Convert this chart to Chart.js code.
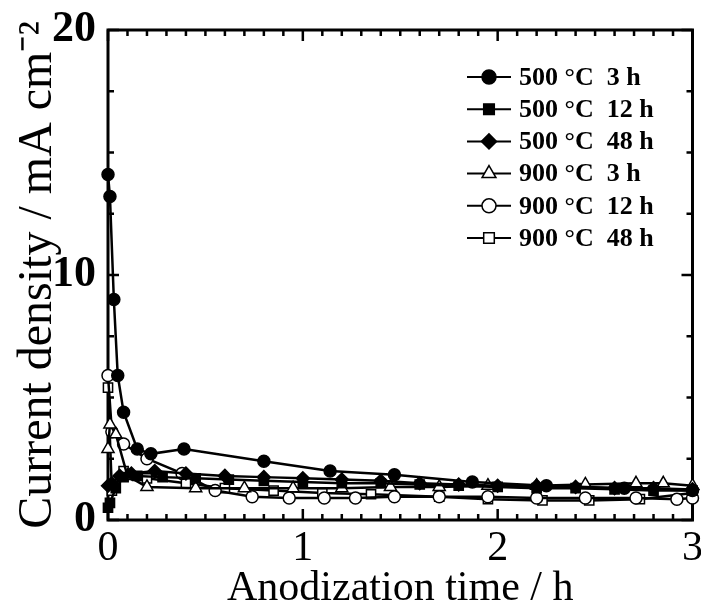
<!DOCTYPE html>
<html><head><meta charset="utf-8">
<script src="https://cdn.jsdelivr.net/npm/chart.js@4/dist/chart.umd.min.js"></script>
<style>html,body{margin:0;padding:0;background:#fff}</style>
</head><body>
<canvas id="c" width="701" height="608" style="width:701px;height:608px;display:block"></canvas>
<script>
// ---- data ----
const seriesLabels = ['500 °C  3 h', '500 °C  12 h', '500 °C  48 h', '900 °C  3 h', '900 °C  12 h', '900 °C  48 h'];

const t500_3h  = [0, 0.01, 0.03, 0.05, 0.08, 0.15, 0.22, 0.39, 0.80, 1.14, 1.47, 1.87, 2.25, 2.65, 3.00];
const j500_3h  = [14.1, 13.2, 9.0, 5.9, 4.4, 2.9, 2.7, 2.9, 2.4, 2.0, 1.85, 1.55, 1.4, 1.3, 1.2];

const t500_12h = [0, 0.01, 0.04, 0.08, 0.15, 0.28, 0.45, 0.62, 0.80, 1.00, 1.20, 1.40, 1.60, 1.80, 2.00, 2.20, 2.40, 2.60, 2.80, 3.00];
const j500_12h = [0.5, 0.7, 1.3, 1.75, 1.8, 1.75, 1.7, 1.65, 1.6, 1.55, 1.5, 1.5, 1.45, 1.4, 1.35, 1.3, 1.3, 1.25, 1.2, 1.2];

const t500_48h = [0, 0.02, 0.06, 0.12, 0.24, 0.40, 0.60, 0.80, 1.00, 1.20, 1.40, 1.60, 1.80, 2.00, 2.20, 2.40, 2.60, 2.80, 3.00];
const j500_48h = [1.4, 1.5, 1.8, 1.9, 2.0, 1.9, 1.8, 1.75, 1.7, 1.65, 1.6, 1.5, 1.45, 1.4, 1.4, 1.35, 1.3, 1.3, 1.25];

const t900_3h  = [0, 0.01, 0.04, 0.10, 0.20, 0.45, 0.70, 0.95, 1.20, 1.45, 1.70, 1.95, 2.20, 2.45, 2.71, 2.85, 3.00];
const j900_3h  = [2.9, 3.9, 3.5, 1.8, 1.35, 1.3, 1.3, 1.3, 1.3, 1.35, 1.35, 1.4, 1.4, 1.45, 1.5, 1.5, 1.4];

const t900_12h = [0, 0.02, 0.08, 0.20, 0.38, 0.55, 0.74, 0.93, 1.11, 1.27, 1.47, 1.70, 1.95, 2.20, 2.45, 2.71, 2.92, 3.00];
const j900_12h = [5.9, 3.6, 3.1, 2.5, 1.9, 1.2, 0.95, 0.9, 0.9, 0.9, 0.95, 0.95, 0.95, 0.9, 0.9, 0.9, 0.85, 0.9];

const t900_48h = [0, 0.02, 0.08, 0.20, 0.40, 0.60, 0.85, 1.10, 1.35, 1.70, 1.95, 2.23, 2.47, 2.73, 3.00];
const j900_48h = [5.4, 1.2, 2.0, 1.7, 1.5, 1.3, 1.2, 1.1, 1.05, 0.95, 0.85, 0.8, 0.8, 0.85, 1.1];

const xTickValues = [0, 1, 2, 3];
const yTickValues = [0, 10, 20];

// ---- build ----
const pts = (t, j) => t.map((x, i) => ({x: x, y: j[i]}));
const styles = [
  {pointStyle: 'circle',   radius: 6,   fill: '#000'},
  {pointStyle: 'rect',     radius: 6.5, fill: '#000'},
  {pointStyle: 'rectRot',  radius: 6.5, fill: '#000'},
  {pointStyle: 'triangle', radius: 7,   fill: '#fff'},
  {pointStyle: 'circle',   radius: 6,   fill: '#fff'},
  {pointStyle: 'rect',     radius: 6.5, fill: '#fff'}
];
const seriesData = [pts(t500_3h, j500_3h), pts(t500_12h, j500_12h), pts(t500_48h, j500_48h),
                    pts(t900_3h, j900_3h), pts(t900_12h, j900_12h), pts(t900_48h, j900_48h)];

const datasets = seriesData.map((d, i) => ({
  label: seriesLabels[i],
  data: d,
  showLine: true,
  tension: 0,
  borderColor: '#000',
  borderWidth: 2.5,
  pointStyle: styles[i].pointStyle,
  pointRadius: styles[i].radius,
  pointBackgroundColor: styles[i].fill,
  pointBorderColor: '#000',
  pointBorderWidth: 1.5,
  clip: false
}));

const SERIF = '"Liberation Serif", "Times New Roman", serif';

const framePlugin = {
  id: 'frame',
  beforeDatasetsDraw(chart) {
    const {ctx, chartArea: a, scales: {x, y}} = chart;
    ctx.save();
    ctx.strokeStyle = '#000';
    ctx.lineWidth = 2.5;
    ctx.lineCap = 'butt';
    ctx.beginPath();
    for (let k = 0; k <= 30; k++) {
      const v = k / 10;
      const px = x.getPixelForValue(v);
      const len = (k % 10 === 0) ? 11 : 6;
      ctx.moveTo(px, a.bottom); ctx.lineTo(px, a.bottom - len);
      ctx.moveTo(px, a.top); ctx.lineTo(px, a.top + len);
    }
    for (let k = 0; k <= 8; k++) {
      const v = k * 2.5;
      const py = y.getPixelForValue(v);
      const len = (k % 4 === 0) ? 11 : 6;
      ctx.moveTo(a.left, py); ctx.lineTo(a.left + len, py);
      ctx.moveTo(a.right, py); ctx.lineTo(a.right - len, py);
    }
    ctx.stroke();
    ctx.lineWidth = 3;
    ctx.strokeRect(a.left, a.top, a.right - a.left, a.bottom - a.top);
    ctx.restore();
  }
};

const legendPlugin = {
  id: 'boxLegend',
  afterDraw(chart) {
    const ctx = chart.ctx;
    ctx.save();
    ctx.font = 'bold 26px ' + SERIF;
    ctx.textBaseline = 'middle';
    ctx.textAlign = 'left';
    chart.data.datasets.forEach((ds, i) => {
      const yy = 77 + i * 32.2;
      ctx.strokeStyle = '#000';
      ctx.lineWidth = 2;
      ctx.beginPath(); ctx.moveTo(467, yy); ctx.lineTo(511, yy); ctx.stroke();
      ctx.fillStyle = ds.pointBackgroundColor;
      ctx.strokeStyle = '#000';
      ctx.lineWidth = 1.5;
      Chart.helpers.drawPoint(ctx, {pointStyle: ds.pointStyle, radius: ds.pointRadius + 1, rotation: 0, borderWidth: 1.5}, 489, yy);
      ctx.fillStyle = '#000';
      ctx.fillText(ds.label, 519, yy + 1);
    });
    ctx.restore();
  }
};

new Chart(document.getElementById('c'), {
  type: 'scatter',
  data: {datasets},
  options: {
    responsive: false,
    animation: false,
    devicePixelRatio: 1,
    layout: {padding: {top: 30, right: 8, left: 0, bottom: 0}},
    plugins: {legend: {display: false}, tooltip: {enabled: false}},
    scales: {
      x: {
        type: 'linear', min: 0, max: 3,
        afterFit: s => { s.height = 88; s.paddingLeft = 0; s.paddingRight = 0; },
        afterBuildTicks: s => { s.ticks = xTickValues.map(v => ({value: v})); },
        grid: {display: false, drawTicks: false},
        border: {display: false},
        ticks: {color: '#000', font: {family: SERIF, size: 42}, padding: 4, maxRotation: 0, autoSkip: false},
        title: {display: true, text: 'Anodization time / h', color: '#000',
                font: {family: SERIF, size: 42, lineHeight: 1}, padding: {top: 0, bottom: -2}}
      },
      y: {
        type: 'linear', min: 0, max: 20,
        afterFit: s => { s.width = 108; s.paddingTop = 0; s.paddingBottom = 0; },
        afterBuildTicks: s => { s.ticks = yTickValues.map(v => ({value: v})); },
        grid: {display: false, drawTicks: false},
        border: {display: false},
        ticks: {color: '#000', font: {family: SERIF, size: 44, weight: 'bold'}, padding: 12},
        title: {display: true, text: 'Current density / mA cm⁻²', color: '#000',
                font: {family: SERIF, size: 48, lineHeight: 1}, padding: {top: 14, bottom: 0}}
      }
    }
  },
  plugins: [framePlugin, legendPlugin]
});
</script>
</body></html>
